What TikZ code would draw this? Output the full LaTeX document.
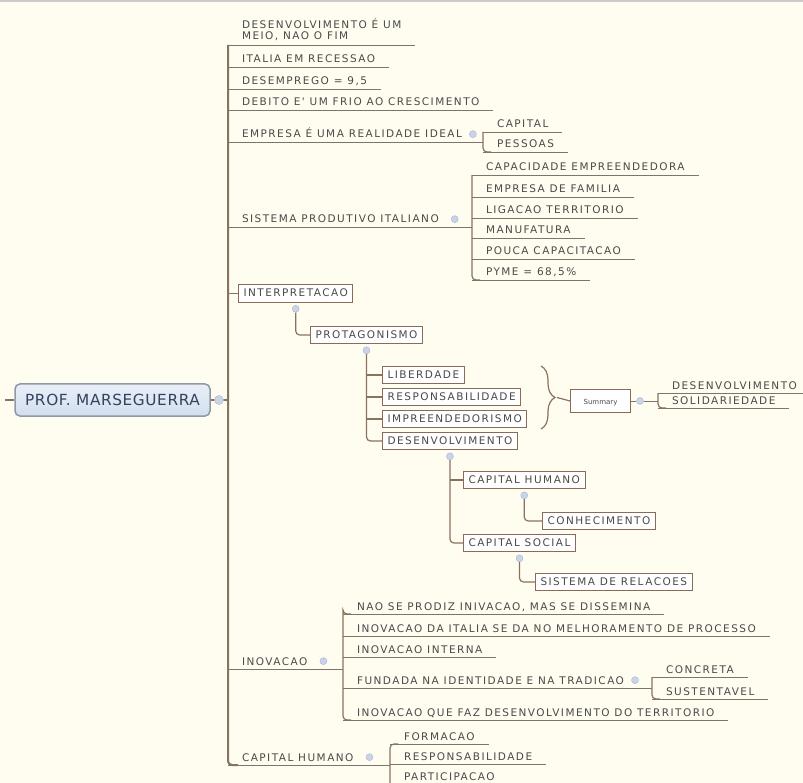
\documentclass[tikz,border=0pt]{standalone}
\usepackage{fontspec}
\newfontfamily\mapfont[LetterSpace=14]{DejaVu Sans}
\newfontfamily\rootfont[LetterSpace=4]{DejaVu Sans}
\usetikzlibrary{positioning,decorations.pathreplacing,backgrounds}

\definecolor{paper}{HTML}{FFFDF0}
\definecolor{branchink}{HTML}{8A7260}
\definecolor{lineink}{HTML}{7D746C}
\definecolor{boxline}{HTML}{8B6A58}
\definecolor{knobfill}{HTML}{C9D4E8}
\definecolor{knobline}{HTML}{A7B5CF}
\definecolor{rootline}{HTML}{8E98A6}
\definecolor{roottop}{HTML}{E9EFF8}
\definecolor{rootbot}{HTML}{D3DEEE}
\definecolor{rootink}{HTML}{34425E}
\definecolor{ink}{HTML}{4A4A4A}

\tikzset{
  topic/.style={font=\mapfont\fontsize{10.5}{12}\selectfont, text=ink, anchor=south west,
    inner xsep=14pt, inner ysep=4pt, text height=7.7pt, text depth=0pt, outer sep=0pt},
  tbox/.style={draw=boxline, line width=1pt, fill=white, font=\mapfont\fontsize{10.5}{12}\selectfont,
    text=ink, inner xsep=5pt, inner ysep=4.5pt, text height=7.7pt, text depth=1pt, anchor=west},
  knob/.style={circle, draw=knobline, fill=knobfill, minimum size=7pt, inner sep=0pt},
  uline/.style={draw=lineink, line width=0.9pt},
  branch/.style={draw=branchink, line width=1.2pt, rounded corners=4pt},
  trunk/.style={branch, line width=2pt}
}

\begin{document}
\begin{tikzpicture}[x=1pt, y=-1pt]
    \begin{scope}[on background layer]
        \fill[paper] (0,0) rectangle (803,783);
        \fill[black!20] (0,0) rectangle (803,2);
    \end{scope}
    \useasboundingbox (0,0) rectangle (803,783);

    % central topic
    \node[draw=rootline, line width=1.5pt, rounded corners=5pt, top color=roottop, bottom color=rootbot,
          text=rootink, font=\rootfont\fontsize{15.3}{18}\selectfont, minimum width=195pt, minimum height=32pt] (root) at (112.5,400) {PROF. MARSEGUERRA};
    \coordinate (lstub) at (5,400);
    \node[knob, minimum size=9pt] (k-root) at (219,400) {};

    % first level
    \node[topic, font=\mapfont\fontsize{10.5}{11}\selectfont, align=left, text height=, text depth=] (desenv) at (228,45) {DESENVOLVIMENTO É UM\\MEIO, NAO O FIM};
    \node[topic] (italia) at (228,67) {ITALIA EM RECESSAO};
    \node[topic] (desemp) at (228,89) {DESEMPREGO = 9,5};
    \node[topic] (debito) at (228,110) {DEBITO E' UM FRIO AO CRESCIMENTO};
    \node[topic] (empresa) at (228,142) {EMPRESA É UMA REALIDADE IDEAL};
    \node[topic] (sistema) at (228,227) {SISTEMA PRODUTIVO ITALIANO};
    \node[tbox] (interp) at (238,293.5) {INTERPRETACAO};
    \node[topic] (inov) at (228,669) {INOVACAO};
    \node[topic] (caphum) at (228,765) {CAPITAL HUMANO};

    % empresa
    \node[topic] (capital) at (483,132) {CAPITAL};
    \node[topic] (pessoas) at (483,152) {PESSOAS};

    % sistema produtivo
    \node[topic] (capac) at (472,175) {CAPACIDADE EMPREENDEDORA};
    \node[topic] (famil) at (472,197) {EMPRESA DE FAMILIA};
    \node[topic] (ligac) at (472,218) {LIGACAO TERRITORIO};
    \node[topic] (manuf) at (472,238) {MANUFATURA};
    \node[topic] (pouca) at (472,259) {POUCA CAPACITACAO};
    \node[topic] (pyme) at (472,280) {PYME = 68,5\%};

    % interpretacao
    \node[tbox] (protag) at (310,335) {PROTAGONISMO};
    \node[tbox] (liber) at (382,375) {LIBERDADE};
    \node[tbox] (respon) at (382,397) {RESPONSABILIDADE};
    \node[tbox] (impre) at (382,419) {IMPREENDEDORISMO};
    \node[tbox] (desen) at (382,441) {DESENVOLVIMENTO};
    \coordinate (btop) at (541,366);
    \coordinate (bbot) at (541,429);
    \coordinate (btip) at (557,397.5);
    \node[tbox, font=\fontspec{DejaVu Sans}\fontsize{7}{8}\selectfont, minimum width=60pt, minimum height=23pt] (summary) at (570,401) {Summary};
    \node[topic] (desres) at (658,393) {DESENVOLVIMENTO};
    \node[topic] (solid) at (658,408) {SOLIDARIEDADE};
    \node[tbox] (caphu2) at (463,480) {CAPITAL HUMANO};
    \node[tbox] (conhec) at (542,521) {CONHECIMENTO};
    \node[tbox] (capsoc) at (463,543) {CAPITAL SOCIAL};
    \node[tbox] (sisrel) at (535,582) {SISTEMA DE RELACOES};

    % inovacao
    \node[topic] (nao) at (343,614) {NAO SE PRODIZ INIVACAO, MAS SE DISSEMINA};
    \node[topic] (inovit) at (343,636) {INOVACAO DA ITALIA SE DA NO MELHORAMENTO DE PROCESSO};
    \node[topic] (inoint) at (343,657) {INOVACAO INTERNA};
    \node[topic] (fund) at (343,688) {FUNDADA NA IDENTIDADE E NA TRADICAO};
    \node[topic] (inoter) at (343,720) {INOVACAO QUE FAZ DESENVOLVIMENTO DO TERRITORIO};
    \node[topic] (concr) at (652,677) {CONCRETA};
    \node[topic] (sust) at (652,699) {SUSTENTAVEL};

    % capital humano
    \node[topic] (forma) at (390,744) {FORMACAO};
    \node[topic] (respo) at (390,764) {RESPONSABILIDADE};
    \node[topic] (parti) at (390,784) {PARTICIPACAO};

    % knobs
    \node[knob] (k-empresa) at ([xshift=-3pt]empresa.east) {};
    \node[knob] (k-sistema) at ([xshift=2pt]sistema.east) {};
    \node[knob] (k-inov) at ([xshift=2pt]inov.east) {};
    \node[knob] (k-caphum) at ([xshift=2pt]caphum.east) {};
    \node[knob] (k-fund) at ([xshift=-3pt]fund.east) {};
    \node[knob] (k-interp) at ([yshift=-6pt]interp.south) {};
    \node[knob] (k-protag) at ([yshift=-6pt]protag.south) {};
    \node[knob] (k-desen) at ([yshift=-6pt]desen.south) {};
    \node[knob] (k-caphu2) at ([yshift=-6pt]caphu2.south) {};
    \node[knob] (k-capsoc) at ([yshift=-6pt]capsoc.south) {};
    \node[knob] (k-sum) at ([xshift=9pt]summary.east) {};

    % underlines
    \foreach \n in {desenv,italia,desemp,debito,empresa,sistema,inov,caphum,capital,pessoas,capac,famil,ligac,manuf,pouca,pyme,desres,solid,nao,inovit,inoint,fund,inoter,concr,sust,forma,respo,parti}
        \draw[uline] (\n.south west) -- (\n.south east);

    \begin{scope}[on background layer]
        \draw[branch] (lstub) -- (root.west);
        \draw[trunk] (root.east) -- (root.east -| desenv.south west);
        \draw[trunk] (desenv.south west) |- ([xshift=10pt]caphum.south west);
        \draw[branch] (interp.west) -- (interp.west -| desenv.south west);

        \draw[uline] (empresa.south east) -- (empresa.south east -| capital.south west);
        \draw[branch] (capital.south west) |- ([xshift=8pt]pessoas.south west);
        \draw[uline] (sistema.south east) -- (sistema.south east -| capac.south west);
        \draw[branch] (capac.south west) |- ([xshift=8pt]pyme.south west);
        \draw[uline] (inov.south east) -- (inov.south east -| nao.south west);
        \draw[branch] ([xshift=8pt]nao.south west) -| (nao.south west) |- ([xshift=8pt]inoter.south west);
        \draw[uline] (fund.south east) -- (fund.south east -| concr.south west);
        \draw[branch] (concr.south west) |- ([xshift=8pt]sust.south west);
        \draw[uline] (caphum.south east) -- (caphum.south east -| forma.south west);
        \draw[branch] ([xshift=8pt]forma.south west) -| (parti.south west);

        \draw[branch] (k-interp) |- (protag.west);
        \draw[branch] (k-protag) |- (desen.west);
        \foreach \n in {liber,respon,impre}
            \draw[branch] (k-protag |- \n.west) -- (\n.west);
        \draw[branch, rounded corners=0pt, decorate, decoration={brace, amplitude=14pt}] (btop) -- (bbot);
        \draw[branch] (btip) -- (summary.west);
        \draw[uline] (summary.east) -- (k-sum) -- (k-sum -| desres.south west);
        \draw[branch] (desres.south west) |- ([xshift=8pt]solid.south west);

        \draw[branch] (k-desen) |- (capsoc.west);
        \draw[branch] (k-desen |- caphu2.west) -- (caphu2.west);
        \draw[branch] (k-caphu2) |- (conhec.west);
        \draw[branch] (k-capsoc) |- (sisrel.west);
    \end{scope}
\end{tikzpicture}
\end{document}
